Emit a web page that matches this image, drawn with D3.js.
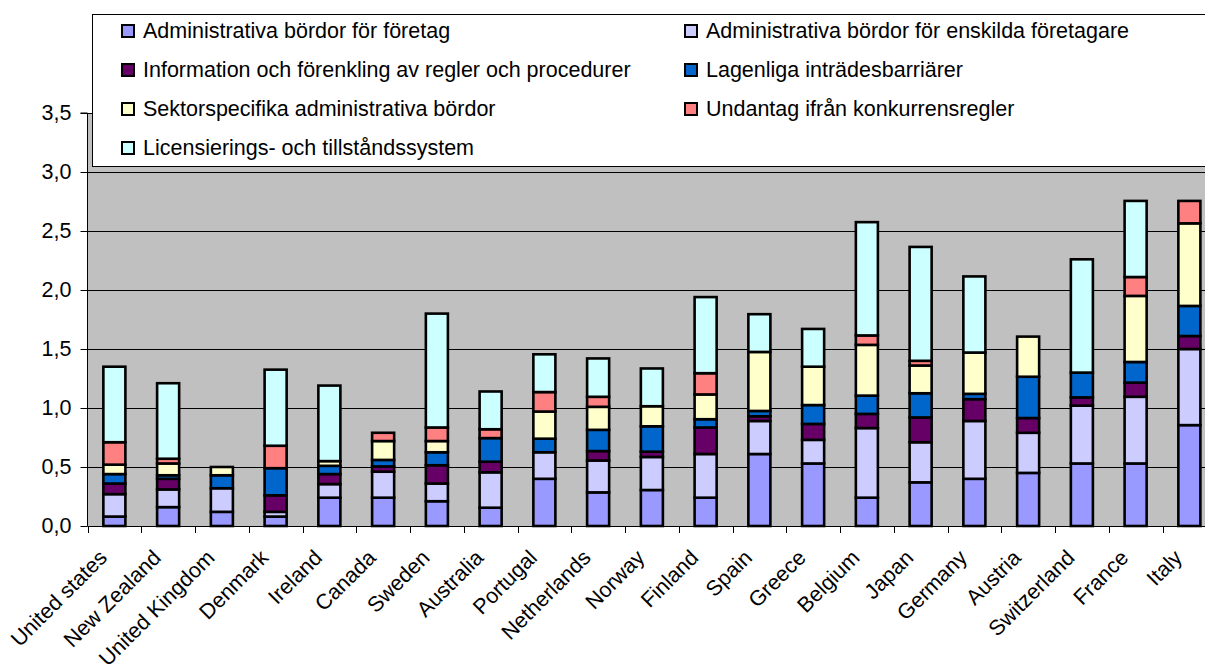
<!DOCTYPE html>
<html>
<head>
<meta charset="utf-8">
<script src="https://cdn.jsdelivr.net/npm/d3@7"></script>
<style>
  html, body { margin: 0; padding: 0; background: #fff; }
  svg { display: block; font-family: "Liberation Sans", Arial, sans-serif; }
</style>
</head>
<body>
<svg id="chart" width="1205" height="666"></svg>
<script>
// Countries, ordered by total score
const countries = ["United states", "New Zealand", "United Kingdom", "Denmark", "Ireland", "Canada",
  "Sweden", "Australia", "Portugal", "Netherlands", "Norway", "Finland", "Spain", "Greece",
  "Belgium", "Japan", "Germany", "Austria", "Switzerland", "France", "Italy"];

// Series names (stack order, bottom to top)
const seriesNames = [
  "Administrativa bördor för företag",
  "Administrativa bördor för enskilda företagare",
  "Information och förenkling av regler och procedurer",
  "Lagenliga inträdesbarriärer",
  "Sektorspecifika administrativa bördor",
  "Undantag ifrån konkurrensregler",
  "Licensierings- och tillståndssystem"
];

const seriesColors = ["#9999FF", "#CCCCFF", "#660066", "#0066CC", "#FFFFCC", "#FF8080", "#CCFFFF"];

// Values per series, one per country
const adminForetag   = [0.08, 0.16, 0.12, 0.08, 0.24, 0.24, 0.21, 0.155, 0.40, 0.285, 0.305, 0.24, 0.61, 0.53, 0.24, 0.37, 0.40, 0.45, 0.53, 0.53, 0.855];
const adminEnskilda  = [0.19, 0.15, 0.20, 0.04, 0.115, 0.22, 0.15, 0.30, 0.225, 0.27, 0.28, 0.37, 0.28, 0.20, 0.59, 0.34, 0.49, 0.34, 0.49, 0.565, 0.645];
const information    = [0.09, 0.09, 0.00, 0.14, 0.085, 0.045, 0.155, 0.09, 0.00, 0.08, 0.045, 0.225, 0.04, 0.135, 0.12, 0.21, 0.185, 0.125, 0.07, 0.12, 0.11];
const lagenliga      = [0.08, 0.03, 0.11, 0.23, 0.07, 0.055, 0.11, 0.20, 0.115, 0.18, 0.215, 0.07, 0.045, 0.16, 0.155, 0.205, 0.045, 0.35, 0.21, 0.175, 0.255];
const sektor         = [0.08, 0.10, 0.07, 0.00, 0.04, 0.16, 0.095, 0.00, 0.23, 0.195, 0.17, 0.21, 0.50, 0.325, 0.43, 0.235, 0.35, 0.34, 0.00, 0.56, 0.70];
const undantag       = [0.19, 0.04, 0.00, 0.19, 0.00, 0.07, 0.115, 0.075, 0.165, 0.085, 0.00, 0.18, 0.00, 0.00, 0.08, 0.04, 0.00, 0.00, 0.00, 0.16, 0.19];
const licensiering   = [0.64, 0.64, 0.00, 0.645, 0.64, 0.00, 0.965, 0.32, 0.32, 0.325, 0.32, 0.645, 0.32, 0.32, 0.96, 0.965, 0.645, 0.00, 0.96, 0.645, 0.00];

const seriesValues = [adminForetag, adminEnskilda, information, lagenliga, sektor, undantag, licensiering];

// Y axis tick values and their labels (decimal comma)
const yTicks = [0, 0.5, 1.0, 1.5, 2.0, 2.5, 3.0, 3.5];
const yTickLabels = ["0,0", "0,5", "1,0", "1,5", "2,0", "2,5", "3,0", "3,5"];

// Table rows for d3.stack
const rows = countries.map((c, i) => {
  const r = { country: c };
  seriesNames.forEach((s, j) => { r[s] = seriesValues[j][i]; });
  return r;
});

const FONT = 21.5;
const svg = d3.select("#chart");

const plot = { left: 87.5, top: 113, bottom: 526, step: 53.75 };
plot.right = plot.left + plot.step * countries.length;

const x = d3.scaleBand()
  .domain(countries)
  .range([plot.left, plot.right])
  .paddingInner(0.59)
  .paddingOuter(0.295);

const y = d3.scaleLinear().domain([0, 3.5]).range([plot.bottom, plot.top]);

// Plot area background
svg.append("rect")
  .attr("x", plot.left).attr("y", plot.top)
  .attr("width", plot.right - plot.left).attr("height", plot.bottom - plot.top)
  .attr("fill", "#C0C0C0");

// Horizontal gridlines
svg.append("g")
  .selectAll("line")
  .data(yTicks.filter(t => t > 0))
  .join("line")
  .attr("x1", plot.left).attr("x2", plot.right)
  .attr("y1", d => Math.round(y(d)) + 0.5).attr("y2", d => Math.round(y(d)) + 0.5)
  .attr("stroke", "#000").attr("stroke-width", 1);

// Stacked bars
const stack = d3.stack().keys(seriesNames);
const layers = stack(rows);

const barGroup = svg.append("g");
layers.forEach((layer, j) => {
  barGroup.append("g")
    .attr("fill", seriesColors[j])
    .selectAll("rect")
    .data(layer.filter(d => d[1] - d[0] > 0))
    .join("rect")
    .attr("x", d => x(d.data.country))
    .attr("y", d => y(d[1]))
    .attr("width", x.bandwidth())
    .attr("height", d => y(d[0]) - y(d[1]))
    .attr("stroke", "#000")
    .attr("stroke-width", 2.6);
});

// Y axis
const yAxis = d3.axisLeft(y)
  .tickValues(yTicks)
  .tickFormat((d, i) => yTickLabels[i])
  .tickSize(7)
  .tickPadding(9);

const yg = svg.append("g")
  .attr("transform", `translate(${plot.left},0)`)
  .call(yAxis);
yg.select(".domain").attr("stroke", "#000").attr("d", `M-7,${plot.top}H0V${plot.bottom}`);
yg.selectAll(".tick line").attr("stroke", "#000");
yg.selectAll("text").attr("font-size", FONT).attr("fill", "#000")
  .attr("font-family", "'Liberation Sans', Arial, sans-serif");

// X axis: tick marks at category boundaries
const xg = svg.append("g");
xg.append("line")
  .attr("x1", plot.left).attr("x2", plot.right)
  .attr("y1", plot.bottom + 0.5).attr("y2", plot.bottom + 0.5)
  .attr("stroke", "#000");
xg.selectAll("line.tk")
  .data(d3.range(countries.length + 1))
  .join("line")
  .attr("class", "tk")
  .attr("x1", i => Math.round(plot.left + i * plot.step) + 0.5)
  .attr("x2", i => Math.round(plot.left + i * plot.step) + 0.5)
  .attr("y1", plot.bottom).attr("y2", plot.bottom + 7)
  .attr("stroke", "#000");

// Rotated country labels
xg.selectAll("text")
  .data(countries)
  .join("text")
  .attr("transform", d => `translate(${x(d) + x.bandwidth() / 2 - 6},${plot.bottom + 33}) rotate(-45)`)
  .attr("text-anchor", "end")
  .attr("font-size", FONT)
  .attr("fill", "#000")
  .text(d => d);

// Legend box
const legend = { x: 92, y: 14, w: 1130, h: 152 };
svg.append("rect")
  .attr("x", legend.x + 0.5).attr("y", legend.y + 0.5)
  .attr("width", legend.w).attr("height", legend.h)
  .attr("fill", "#fff").attr("stroke", "#000");

const legendCols = [122, 685];
const legendRowY = [31, 70, 109, 148];
const items = svg.append("g")
  .selectAll("g")
  .data(seriesNames)
  .join("g")
  .attr("transform", (d, i) => `translate(${legendCols[i % 2]},${legendRowY[Math.floor(i / 2)]})`);
items.append("rect")
  .attr("x", 0).attr("y", -6).attr("width", 12).attr("height", 12)
  .attr("fill", (d, i) => seriesColors[i])
  .attr("stroke", "#000").attr("stroke-width", 2);
items.append("text")
  .attr("x", 21).attr("y", 7)
  .attr("font-size", FONT)
  .attr("fill", "#000")
  .text(d => d);
</script>
</body>
</html>
